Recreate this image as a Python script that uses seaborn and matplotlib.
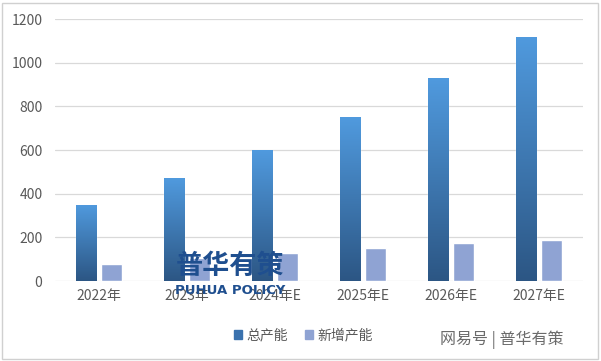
import numpy as np
import matplotlib
matplotlib.use("Agg")
import matplotlib.pyplot as plt
import matplotlib.patches as mpatches
import pandas as pd
import seaborn as sns

years = ["2022年", "2023年", "2024年E", "2025年E", "2026年E", "2027年E"]
total_cap = [350, 470, 600, 750, 930, 1120]
new_cap = [80, 105, 130, 150, 175, 190]
series = ["总产能", "新增产能"]

sns.set_theme(style="white")
plt.rcParams["font.family"] = ["Noto Sans CJK SC", "DejaVu Sans"]

data = pd.DataFrame({
    "year": years * 2,
    "value": total_cap + new_cap,
    "series": [series[0]] * len(years) + [series[1]] * len(years),
})

fig = plt.figure(figsize=(6.01, 3.61), dpi=100)
ax = fig.add_axes([0.0915, 0.2216, 0.8785, 0.7254])

ax = sns.barplot(data, x="year", y="value", hue="series", hue_order=series,
                 palette=["#3F7DC0", "#8FA3D3"], width=0.57, gap=0.2,
                 saturation=1, legend=False, ax=ax)

ax.set_ylim(0, 1200)
ax.set_yticks(range(0, 1201, 200))
ax.grid(axis="y", color="#D9D9D9", linewidth=0.9)
ax.set_axisbelow(True)
for s in ax.spines.values():
    s.set_visible(False)
ax.set(xlabel="", ylabel="")
ax.tick_params(axis="both", length=0, colors="#595959", labelsize=10)
ax.tick_params(axis="y", pad=9)
ax.tick_params(axis="x", pad=6)

# gradient fill for the total-capacity bars
grad = np.linspace(0, 1, 256).reshape(-1, 1)
cmap = matplotlib.colors.LinearSegmentedColormap.from_list("g", ["#2C5684", "#509ADE"])
for bar in ax.patches[:len(years)]:
    x0, w, h = bar.get_x(), bar.get_width(), bar.get_height()
    im = ax.imshow(grad, cmap=cmap, extent=[x0, x0 + w, 0, h], origin="lower",
                   aspect="auto", zorder=bar.get_zorder() + 0.1)
    im.set_clip_path(bar)
ax.set_xlim(-0.5, len(years) - 0.5)
ax.set_ylim(0, 1200)

handles = [mpatches.Patch(color="#3A72AE", label=series[0]),
           mpatches.Patch(color="#8FA3D3", label=series[1])]
fig.legend(handles=handles, loc="center", bbox_to_anchor=(0.505, 0.072), ncol=2,
           frameon=False, handlelength=0.6, handleheight=0.6, handletextpad=0.3,
           columnspacing=1.2, fontsize=10, labelcolor="#595959")

# watermarks
fig.text(0.383, 0.262, "普华有策", fontsize=19.5, fontweight="bold", color="#1F4F8F",
         ha="center", va="center", zorder=10)
fig.text(0.383, 0.194, "PUHUA POLICY", fontsize=9.5, fontweight="bold", color="#1F4F8F",
         ha="center", va="center", zorder=10, family=["DejaVu Sans"])
fig.text(0.835, 0.058, "网易号 | 普华有策", fontsize=11.5, color="#6B6B6B",
         ha="center", va="center")

fig.patches.append(mpatches.Rectangle((0.003, 0.006), 0.992, 0.985, transform=fig.transFigure,
                                      fill=False, edgecolor="#D0D0D0", linewidth=1))

fig.savefig("out.png", dpi=100)
